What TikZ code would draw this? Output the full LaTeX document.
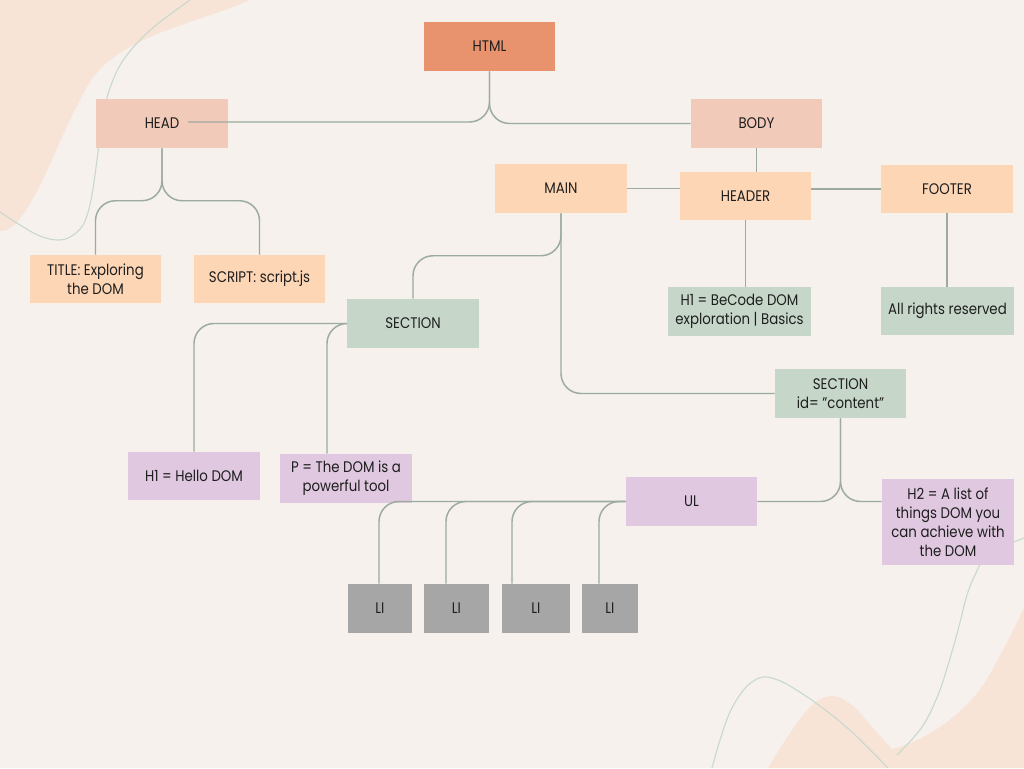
\documentclass[tikz,border=0pt]{standalone}
\usepackage{fontspec}
\setmainfont[FakeStretch=0.87]{Poppins}
\usetikzlibrary{calc}
\definecolor{bg}{HTML}{F6F1ED}
\definecolor{blob}{HTML}{F8E4D7}
\definecolor{thin}{HTML}{C7D8CD}
\definecolor{chtml}{HTML}{E8936E}
\definecolor{chead}{HTML}{F2CABA}
\definecolor{cpeach}{HTML}{FDD6B5}
\definecolor{cgreen}{HTML}{C6D7CA}
\definecolor{cpurple}{HTML}{E0C8E0}
\definecolor{cgray}{HTML}{A6A6A6}
\definecolor{cconn}{HTML}{9BAB9D}
\definecolor{ctext}{HTML}{1E1E1E}
\tikzset{
  box/.style={rectangle, inner sep=0pt, align=center, text=ctext,
    font=\fontsize{11.5}{14.3}\selectfont},
  conn/.style={draw=cconn, line width=1.1pt, rounded corners=15pt},
  deco/.style={draw=thin, line width=0.8pt},
}
\newcommand{\bx}[6]{\node[box, fill=#1, minimum width=#2*0.75pt, minimum height=#3*0.75pt] (#4) at (#5) {#6};}
\begin{document}
\begin{tikzpicture}[x=0.75pt,y=-0.75pt]
\fill[bg] (0,0) rectangle (1024,768);
\useasboundingbox (0,0) rectangle (1024,768);
% blobs
\fill[blob] (0,0) -- plot[smooth, tension=0.6] coordinates {(250,0) (230,8) (190,22) (150,37) (117,55) (95,75) (80,100) (63,135) (45,175) (28,207) (12,227) (0,231)} -- cycle;
\fill[blob] (1024,768) -- (766,768) -- plot[smooth, tension=0.6] coordinates {(768,768) (790,733) (812,705) (832,696) (852,705) (872,727) (892,749)} -- plot[smooth, tension=0.6] coordinates {(892,749) (915,741) (947,722) (978,692) (1003,650) (1024,608)} -- cycle;
% thin decorative lines
\draw[deco] plot[smooth, tension=0.6] coordinates {(190,0) (160,22) (140,40) (122,62) (110,88) (102,120) (97,160) (91,200) (83,225) (70,237) (57,240) (40,236) (20,225) (0,212)};
\draw[deco] plot[smooth, tension=0.6] coordinates {(1024,538) (1000,548) (985,557) (975,575) (967,595) (958,630) (948,665) (938,695) (922,727) (897,755)};
\draw[deco] plot[smooth, tension=0.6] coordinates {(712,768) (720,740) (730,712) (742,692) (752,682) (763,677) (775,679) (790,686) (820,706) (853,733) (888,768)};
% nodes
\bx{chtml}{131}{49}{html}{489.5,46.5}{HTML}
\bx{chead}{132}{49}{head}{162,123.5}{HEAD}
\bx{chead}{131}{49}{body}{756.5,123.5}{BODY}
\bx{cpeach}{132}{49}{main}{561,188.5}{MAIN}
\bx{cpeach}{131}{48}{header}{745.5,196}{HEADER}
\bx{cpeach}{132}{48}{footer}{947,189}{FOOTER}
\bx{cpeach}{131}{48}{title}{95.5,279}{TITLE: Exploring\\the DOM}
\bx{cpeach}{131}{48}{script}{259.5,279}{SCRIPT: script.js}
\bx{cgreen}{132}{49}{section}{413,323.5}{SECTION}
\bx{cgreen}{143}{49}{h1b}{739.5,311.5}{H1 = BeCode DOM\\exploration | Basics}
\bx{cgreen}{133}{48}{rights}{947.5,311}{All rights reserved}
\bx{cgreen}{131}{49}{secid}{840.5,393.5}{SECTION\\id= "content"}
\bx{cpurple}{132}{48}{h1hello}{194,476}{H1 = Hello DOM}
\bx{cpurple}{132}{49}{p}{346,478.5}{P = The DOM is a\\powerful tool}
\bx{cpurple}{131}{49}{ul}{691.5,501.5}{UL}
\bx{cpurple}{132}{86}{h2}{948,522}{H2 = A list of\\things DOM you\\can achieve with\\the DOM}
\bx{cgray}{64}{49}{li1}{380,608.5}{LI}
\bx{cgray}{65}{49}{li2}{456.5,608.5}{LI}
\bx{cgray}{68}{49}{li3}{536,608.5}{LI}
\bx{cgray}{56}{49}{li4}{610,608.5}{LI}
% connectors
\coordinate (headend) at ($(head.center)+(26,-1.5)$);
\draw[conn] (html.south) |- (headend);
\draw[conn] (html.south) |- (body.west);
\draw[conn] (body.south) -- (body.south |- header.north);
\draw[conn] (main.east) -- (main.east -| header.west);
\draw[conn] (header.east |- footer.west) -- (footer.west);
\draw[conn] (head.south) |- ($(title.north)+(0,-54)$) -- (title.north);
\draw[conn] (head.south) |- ($(script.north)+(0,-54)$) -- (script.north);
\draw[conn] (main.south) |- (secid.west);
\draw[conn] (main.south) |- ($(section.north)+(0,-43)$) -- (section.north);
\draw[conn] (header.south) -- (header.south |- h1b.north);
\draw[conn] (footer.south) -- (footer.south |- rights.north);
\draw[conn] (section.west) -| (h1hello.north);
\draw[conn] (section.west) -| ($(p.north)+(-19,0)$);
\draw[conn] (secid.south) |- (ul.east);
\draw[conn] (secid.south) |- (h2.west |- ul.east);
\draw[conn] (ul.west) -| ($(li1.north)+(-1,0)$);
\draw[conn] (ul.west) -| ($(li2.north)+(-10.5,0)$);
\draw[conn] (ul.west) -| ($(li3.north)+(-24,0)$);
\draw[conn] (ul.west) -| ($(li4.north)+(-11,0)$);
\end{tikzpicture}
\end{document}
